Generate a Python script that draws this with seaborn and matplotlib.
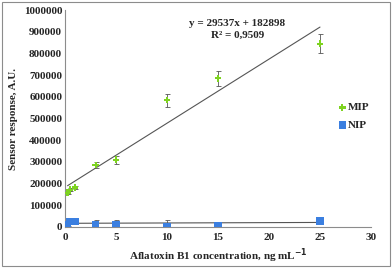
import numpy as np
import pandas as pd
import seaborn as sns
import matplotlib.pyplot as plt
from matplotlib.patches import Rectangle

sns.set_theme(style="white", rc={"axes.edgecolor": "#8c8c8c", "axes.linewidth": 0.8})
plt.rcParams['font.family'] = ['Liberation Serif', 'DejaVu Serif']
plt.rcParams['font.weight'] = 'bold'

# data
mip_x = [0.25, 0.5, 1, 3, 5, 10, 15, 25]
mip_y = [158000, 172000, 182000, 285000, 310000, 585000, 685000, 845000]
mip_err = [8000, 8000, 8000, 15000, 18000, 30000, 35000, 45000]

nip_x = [0.25, 0.5, 0.75, 1, 3, 5, 10, 15, 25]
nip_y = [10000, 25000, 25000, 25000, 12000, 12000, 2000, 5000, 28000]
nip_err = [5000, 5000, 5000, 5000, 20000, 20000, 30000, 20000, 5000]

mip_slope, mip_icpt = 29537, 182898
nip_line_x = [0.25, 25]
nip_line_y = [17000, 21000]

mip = pd.DataFrame({"x": mip_x, "y": mip_y, "s": "MIP"})
nip = pd.DataFrame({"x": nip_x, "y": nip_y, "s": "NIP"})
fit_x = np.array([0.25, 25])
fit = pd.DataFrame({"x": fit_x, "y": mip_slope * fit_x + mip_icpt})

fig = plt.figure(figsize=(3.92, 2.68), dpi=100)
ax = fig.add_axes([65 / 392, 1 - 227 / 268, 306 / 392, 217 / 268])

sns.lineplot(data=fit, x="x", y="y", color="#555555", linewidth=0.8, ax=ax)
sns.lineplot(x=nip_line_x, y=nip_line_y, color="#555555", linewidth=0.8, ax=ax)

ax.errorbar(mip_x, mip_y, yerr=mip_err, fmt="none", ecolor="#555555", elinewidth=0.6, capsize=1.8, capthick=0.6)
ax.errorbar(nip_x, nip_y, yerr=nip_err, fmt="none", ecolor="#555555", elinewidth=0.6, capsize=1.8, capthick=0.6)

sns.scatterplot(data=mip, x="x", y="y", marker="P", color="#7ed321", s=22, edgecolor="none", label="MIP", ax=ax, zorder=5)
sns.scatterplot(data=nip, x="x", y="y", marker="s", color="#3b7fe0", s=30, edgecolor="none", label="NIP", ax=ax, zorder=5)

ax.set_xlim(0, 30)
ax.set_ylim(0, 1000000)
ax.set_xticks(range(0, 31, 5))
ax.set_yticks(range(0, 1000001, 100000))
ax.set_yticklabels([str(v) for v in range(0, 1000001, 100000)])
ax.tick_params(axis="both", labelsize=8, length=2.5, width=0.6, color="#8c8c8c", direction="out", pad=2)
for lab in ax.get_xticklabels() + ax.get_yticklabels():
    lab.set_fontweight("bold")
sns.despine(ax=ax)
ax.tick_params(axis="y", length=0)

ax.set_xlabel("Aflatoxin B1 concentration, ng mL$^{\\mathbf{-1}}$", fontsize=8, fontweight="bold", labelpad=3)
ax.set_ylabel("Sensor response, A.U.", fontsize=8, fontweight="bold", labelpad=4)

ax.text(16.9, 925000, "y = 29537x + 182898", fontsize=8, fontweight="bold", ha="center")
ax.text(16.9, 873000, "R² = 0,9509", fontsize=8, fontweight="bold", ha="center")

leg = ax.legend(loc="center left", bbox_to_anchor=(0.87, 0.51), frameon=False, fontsize=8,
                handletextpad=0.0, labelspacing=0.7, handlelength=1.0, borderpad=0)
for t in leg.get_texts():
    t.set_fontweight("bold")

fig.patches.append(Rectangle((0.005, 0.008), 0.99, 0.984, transform=fig.transFigure,
                             fill=False, edgecolor="#8c8c8c", linewidth=0.8))

fig.savefig("out.png", dpi=100)
